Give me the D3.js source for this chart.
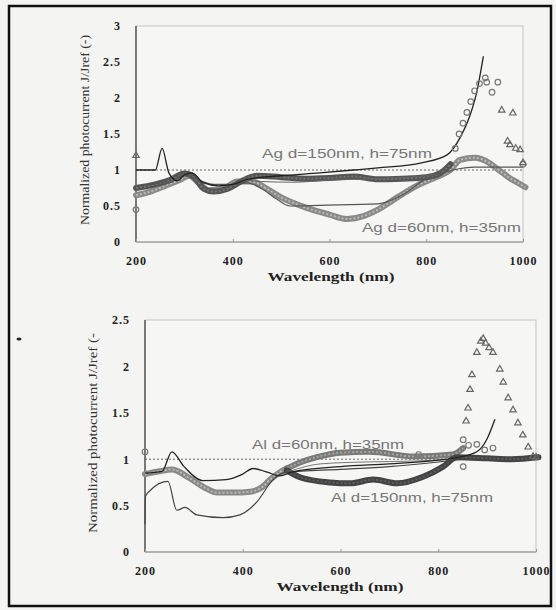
<!DOCTYPE html>
<html>
<head>
<meta charset="utf-8">
<script src="https://cdn.jsdelivr.net/npm/d3@7"></script>
<style>
  body { margin: 0; background: #f4f4f2; }
  svg { display: block; }
  .tick text { font-family: "Liberation Serif", "DejaVu Serif", serif; font-weight: bold; font-size: 12px; letter-spacing: 1px; fill: #222; }
</style>
</head>
<body>
<div id="chart"></div>
<script>
const W = 556, H = 610;

// ---- data ----
const xTicks = [200, 400, 600, 800, 1000];
const agYTicks = [0, 0.5, 1, 1.5, 2, 2.5, 3];
const alYTicks = [0, 0.5, 1, 1.5, 2, 2.5];
const refLevel = 1;

// Ag panel
const agSim150 = [[200,1.0],[240,1.0],[254,1.3],[268,0.96],[285,0.85],[300,0.93],[315,0.96],[340,0.82],[370,0.78],[400,0.8],[430,0.87],[500,0.92],[580,0.96],[650,1.0],[700,1.03],[790,1.1],[843,1.21],[870,1.45],[890,1.75],[905,2.1],[918,2.58]];
const agSim60 = [[200,0.78],[250,0.82],[300,0.95],[330,0.86],[360,0.8],[400,0.8],[430,0.82],[460,0.74],[490,0.6],[518,0.5],[580,0.51],[700,0.53],[752,0.66],[800,0.88],[855,1.0],[900,1.04],[1000,1.04]];
const agSimMid = [[420,0.86],[460,0.84],[525,0.83],[600,0.86],[700,0.88],[800,0.92],[850,0.98]];
const agMeas60 = [[200,0.65],[230,0.7],[260,0.78],[290,0.86],[310,0.92],[330,0.82],[350,0.72],[380,0.74],[410,0.84],[440,0.84],[470,0.74],[500,0.62],[550,0.48],[600,0.38],[636,0.32],[670,0.36],[700,0.45],[740,0.62],[780,0.78],[820,0.9],[850,1.0],[870,1.14],[900,1.17],[930,1.1],[950,1.0],[970,0.9],[990,0.82],[1005,0.76]];
const agMeas150 = [[200,0.75],[240,0.8],[270,0.86],[300,0.95],[320,0.9],[340,0.74],[360,0.7],[390,0.74],[420,0.85],[450,0.92],[500,0.9],[550,0.88],[600,0.89],[650,0.91],[700,0.87],[750,0.88],[800,0.9],[830,0.96],[850,1.08]];
const agCirc = [[200,0.45],[860,1.3],[868,1.5],[876,1.65],[884,1.8],[892,1.95],[900,2.1],[910,2.2],[922,2.28],[925,2.22],[936,2.08],[948,2.22],[1000,1.08]];
const agTri = [[200,1.2],[956,1.83],[979,1.79],[968,1.4],[973,1.35],[985,1.3],[994,1.28],[1000,1.1]];

// Al panel
const alSimTop = [[200,0.85],[235,0.87],[255,1.08],[280,0.92],[318,0.77],[366,0.78],[400,0.84],[421,0.9],[450,0.86],[476,0.82],[500,0.86],[600,0.92],[700,0.95],[800,0.99],[840,1.02],[879,1.08],[900,1.22],[916,1.43]];
const alSimLow = [[200,0.3],[201,0.6],[210,0.66],[247,0.76],[265,0.45],[282,0.48],[306,0.4],[360,0.37],[394,0.4],[429,0.54],[462,0.78],[490,0.86],[600,0.89],[700,0.92],[800,0.97],[850,1.0]];
const alSimMid = [[480,0.84],[560,0.95],[650,0.97],[750,0.98],[830,1.0]];
const alMeas = [[200,0.84],[230,0.87],[255,0.89],[290,0.8],[320,0.7],[347,0.64],[380,0.64],[415,0.65],[440,0.7],[456,0.78],[476,0.86],[490,0.9]];
const alMeas60 = [[490,0.9],[520,0.97],[550,1.02],[599,1.07],[660,1.08],[750,1.03],[830,1.05],[851,1.12]];
const alMeas150 = [[490,0.88],[520,0.8],[579,0.75],[620,0.74],[667,0.78],[716,0.74],[769,0.81],[810,0.92],[838,1.02],[900,1.01],[950,1.0],[1005,1.02]];
const alCirc = [[200,1.08],[760,1.05],[851,0.92],[851,1.21],[862,1.15],[879,1.16],[895,1.1],[912,1.12]];
const alTri = [[857,1.41],[861,1.55],[865,1.75],[869,1.91],[879,2.15],[887,2.27],[892,2.3],[897,2.25],[904,2.2],[912,2.15],[926,1.97],[933,1.83],[943,1.66],[953,1.53],[963,1.39],[973,1.26],[984,1.13],[994,1.03],[1000,1.02]];

const svg = d3.select("#chart").append("svg").attr("width", W).attr("height", H);

// scanned page border
svg.append("rect").attr("x", 9).attr("y", 6).attr("width", 542).attr("height", 600)
    .attr("fill", "#f4f4f2").attr("stroke", "#111").attr("stroke-width", 2.5);
svg.append("ellipse").attr("cx", 19).attr("cy", 339).attr("rx", 2.5).attr("ry", 1.5).attr("fill", "#222");

function panel(p) {
    const x = d3.scaleLinear().domain([200, 1000]).range([p.x0, p.x1]);
    const y = d3.scaleLinear().domain([0, p.yMax]).range([p.y0, p.y1]);
    const g = svg.append("g");
    const line = d3.line().x(d => x(d[0])).y(d => y(d[1])).curve(d3.curveMonotoneX);

    // frame
    g.append("rect").attr("x", p.x0).attr("y", p.y1)
        .attr("width", p.x1 - p.x0).attr("height", p.y0 - p.y1)
        .attr("fill", "#f6f6f4").attr("stroke", "#c4c4c2").attr("stroke-width", 1);
    g.append("line").attr("x1", p.x0).attr("x2", p.x0).attr("y1", p.y0).attr("y2", p.y1)
        .attr("stroke", "#444").attr("stroke-width", 1.3);
    g.append("line").attr("x1", p.x0).attr("x2", p.x1).attr("y1", p.y0).attr("y2", p.y0)
        .attr("stroke", "#888").attr("stroke-width", 1);

    // axes
    const ya = g.append("g").attr("transform", `translate(${p.x0},0)`)
        .call(d3.axisLeft(y).tickValues(p.yTicks).tickSize(0).tickPadding(15).tickFormat(d => d));
    ya.select(".domain").remove();
    const xa = g.append("g").attr("transform", `translate(0,${p.y0})`)
        .call(d3.axisBottom(x).tickValues(xTicks).tickSizeInner(-3).tickSizeOuter(0)
            .tickPadding(14).tickFormat(d3.format("d")));
    xa.select(".domain").remove();
    xa.selectAll(".tick line").attr("stroke", "#999");

    g.append("text").attr("x", p.titleX).attr("y", p.y0 + 39)
        .attr("text-anchor", "middle").attr("font-family", "Liberation Serif")
        .attr("font-weight", "bold").attr("font-size", 13).attr("fill", "#222")
        .attr("textLength", 127).attr("lengthAdjust", "spacingAndGlyphs")
        .text("Wavelength (nm)");
    g.append("text")
        .attr("transform", `translate(${p.yTitleX},${p.yTitleY}) rotate(-90)`)
        .attr("text-anchor", "middle").attr("font-family", "Liberation Serif")
        .attr("font-size", 12).attr("fill", "#333")
        .attr("textLength", p.yTitleLen).attr("lengthAdjust", "spacingAndGlyphs")
        .text(p.yTitle);

    // reference line
    g.append("line").attr("x1", p.x0).attr("x2", p.x1)
        .attr("y1", y(refLevel)).attr("y2", y(refLevel))
        .attr("stroke", "#555").attr("stroke-width", 0.9).attr("stroke-dasharray", "2,2");

    // measured bands (dense open circles)
    p.bands.forEach(b => {
        g.append("path").datum(b.data).attr("d", line).attr("fill", "none")
            .attr("stroke", b.color).attr("stroke-width", 6).attr("stroke-linecap", "round");
        g.append("path").datum(b.data).attr("d", line).attr("fill", "none")
            .attr("stroke", d3.color(b.color).brighter(0.9)).attr("stroke-width", 1.8)
            .attr("stroke-dasharray", "2,2");
    });

    // simulated lines
    p.lines.forEach(l => {
        g.append("path").datum(l.data).attr("d", line).attr("fill", "none")
            .attr("stroke", l.color).attr("stroke-width", l.w);
    });

    // sparse circles
    g.selectAll(null).data(p.circles).enter().append("circle")
        .attr("cx", d => x(d[0])).attr("cy", d => y(d[1])).attr("r", 2.8)
        .attr("fill", "none").attr("stroke", "#777").attr("stroke-width", 1.2);

    // triangles
    const tri = d3.symbol().type(d3.symbolTriangle).size(18);
    g.selectAll(null).data(p.tris).enter().append("path")
        .attr("d", tri).attr("transform", d => `translate(${x(d[0])},${y(d[1])})`)
        .attr("fill", "none").attr("stroke", "#666").attr("stroke-width", 1.2);

    // annotations
    p.notes.forEach(n => {
        g.append("text").attr("x", n.x).attr("y", n.y)
            .attr("font-family", "Liberation Sans").attr("font-size", 12).attr("fill", "#777")
            .attr("textLength", n.len).attr("lengthAdjust", "spacingAndGlyphs")
            .text(n.t);
    });
}

panel({
    x0: 136, x1: 523, y0: 242, y1: 26, yMax: 3, yTicks: agYTicks,
    titleX: 331, yTitleX: 89, yTitleY: 130, yTitleLen: 190,
    yTitle: "Normalized photocurrent J/Jref (-)",
    bands: [{ data: agMeas60, color: "#8a8a88" }, { data: agMeas150, color: "#555" }],
    lines: [{ data: agSimMid, color: "#666", w: 1 }, { data: agSim60, color: "#555", w: 1.2 },
            { data: agSim150, color: "#222", w: 1.3 }],
    circles: agCirc, tris: agTri,
    notes: [{ t: "Ag d=150nm, h=75nm", x: 262, y: 158, len: 170 },
            { t: "Ag d=60nm, h=35nm", x: 362, y: 232, len: 159 }]
});

panel({
    x0: 145, x1: 536, y0: 552, y1: 320, yMax: 2.5, yTicks: alYTicks,
    titleX: 340, yTitleX: 97, yTitleY: 433, yTitleLen: 200,
    yTitle: "Normalized photocurrent J/Jref (-",
    bands: [{ data: alMeas, color: "#8a8a88" }, { data: alMeas60, color: "#7a7a78" },
            { data: alMeas150, color: "#444" }],
    lines: [{ data: alSimMid, color: "#777", w: 1 }, { data: alSimLow, color: "#444", w: 1.2 },
            { data: alSimTop, color: "#222", w: 1.3 }],
    circles: alCirc, tris: alTri,
    notes: [{ t: "Al d=60nm, h=35nm", x: 252, y: 449, len: 152 },
            { t: "Al d=150nm, h=75nm", x: 331, y: 502, len: 162 }]
});
</script>
</body>
</html>
